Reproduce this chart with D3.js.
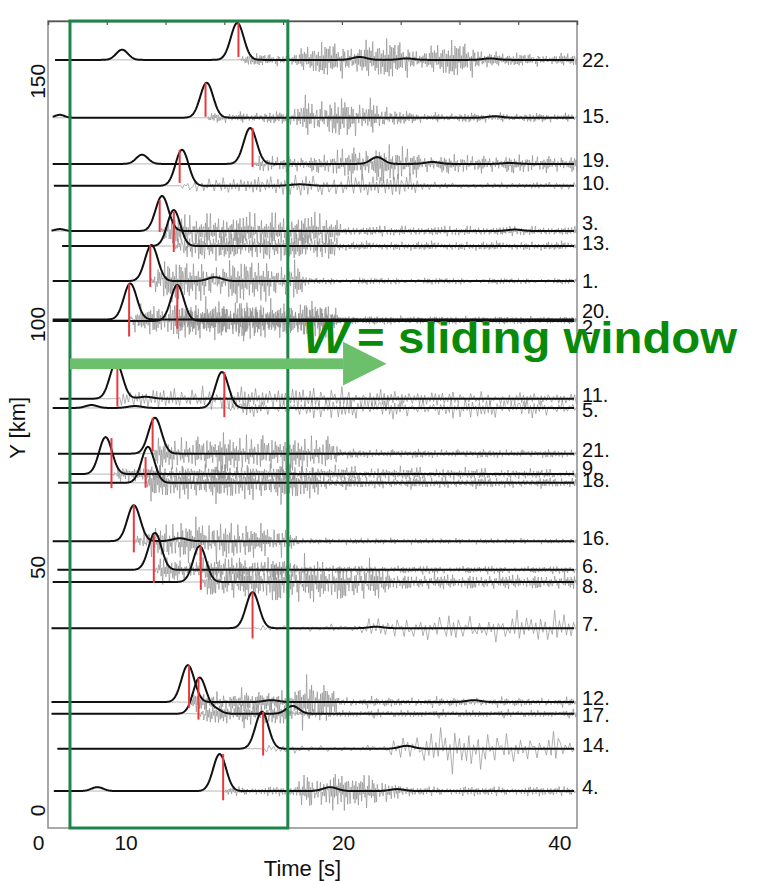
<!DOCTYPE html>
<html>
<head>
<meta charset="utf-8">
<script src="https://cdn.jsdelivr.net/npm/d3@7"></script>
<style>
  body { margin: 0; background: #fff; }
  text { font-family: "Liberation Sans", Arial, sans-serif; }
</style>
</head>
<body>
<div id="chart"></div>
<script>
const width = 766, height = 881;
const margin = {top: 21, right: 189, bottom: 53, left: 48};
const iw = width - margin.left - margin.right, ih = height - margin.top - margin.bottom;

// station labels, top to bottom
const traceIds = ["22.", "15.", "19.", "10.", "3.", "13.", "1.", "20.", "2.", "11.", "5.",
  "21.", "9.", "18.", "16.", "6.", "8.", "7.", "12.", "17.", "14.", "4."];
// station Y position [km]
const baselineKm = [154.3, 142.4, 132.9, 128.4, 119.1, 116.0, 108.8, 100.9, 100.6, 84.6, 82.7,
  73.3, 69.1, 67.3, 55.3, 49.4, 46.9, 37.4, 22.2, 19.8, 12.6, 3.9];
// where the label sits [km]
const labelKm = [154.3, 142.8, 133.7, 129.0, 120.8, 116.7, 108.8, 102.7, 99.4, 85.4, 82.3,
  74.1, 70.4, 67.9, 56.0, 50.2, 46.1, 38.3, 23.0, 19.5, 13.4, 4.7];
// first sample time [s]
const envStart = [0.6, 0.4, 0.4, 0.5, 0.3, 1.2, 0.4, 0.4, 0.4, 1.0, 0.4,
  0.85, 1.9, 0.85, 0.4, 0.8, 0.4, 0.3, 0.3, 0.3, 0.8, 0.5];
// envelope peaks: [time s, height km, width s]
const peaks = [
  [[16.1, 7.6], [6.3, 2.1, 0.5], [26.5, 0.6, 0.6], [30.5, 0.3, 0.6], [37.6, 0.3, 0.6]],
  [[13.5, 7.2], [1.0, 0.6, 0.4], [38.0, 0.3, 0.6]],
  [[17.2, 7.4], [8.0, 1.9, 0.5], [28.0, 1.4, 0.55], [32.7, 0.4, 0.6], [39.3, 0.2, 0.6]],
  [[11.4, 7.4], [21.4, 0.3, 0.8]],
  [[9.7, 7.2], [1.0, 0.4, 0.4], [39.7, 0.3, 0.6]],
  [[10.7, 7.4]],
  [[8.8, 7.4], [14.2, 0.8, 0.6]],
  [[7.0, 7.4]],
  [[11.0, 7.4]],
  [[5.8, 7.4], [8.3, 0.4, 0.6]],
  [[14.8, 7.4], [3.7, 0.6, 0.5], [7.4, 0.4, 0.6]],
  [[9.1, 7.4]],
  [[4.9, 7.6]],
  [[8.5, 7.4]],
  [[7.3, 7.4], [11.2, 0.6, 0.6]],
  [[9.1, 7.6]],
  [[12.9, 7.4]],
  [[17.4, 7.4], [27.9, 0.3, 0.6]],
  [[11.9, 7.6], [19.0, 0.4, 0.6], [36.2, 0.4, 0.6]],
  [[12.9, 7.4], [14.2, 1.0, 0.5], [20.8, 1.6, 0.55]],
  [[18.2, 7.6], [30.5, 0.6, 0.6]],
  [[14.6, 7.6], [4.2, 0.8, 0.5], [24.0, 0.8, 0.6], [29.7, 0.4, 0.6]]
];
// picks: [time s, top above base km, bottom below base km]
const picks = [
  [16.2, 7.6, -0.6], [13.4, 7.2, -0.2], [17.4, 7.4, 0.6], [11.2, 7.4, -0.6], [9.5, 6.4, 0.2],
  [10.7, 7.0, 1.2], [8.7, 7.4, 1.2], [6.9, 7.4, 3.5], [11.0, 7.4, 1.6], [5.9, 7.4, 1.6],
  [15.0, 7.4, 1.9], [8.9, 7.4, -0.4], [5.4, 7.4, 2.9], [8.3, 5.3, 1.0], [7.3, 7.4, 2.3],
  [9.0, 7.2, 2.7], [13.0, 7.4, 1.6], [17.4, 7.4, 2.1], [12.0, 7.6, 1.2], [12.8, 7.4, 1.2],
  [18.3, 7.6, 1.4], [14.9, 7.6, 1.9]
];
// seismogram peak amplitude read along the record: [time s, amplitude km]
const grayAmp = [
  [[0, 0.05], [16.2, 0.05], [16.8, 1.8], [20.6, 2], [22, 4], [24, 5.5], [30, 6], [32, 3.5], [34, 5.5], [35.9, 5.5], [36.7, 4.5], [38.4, 2], [45, 2]],
  [[0, 0.05], [13.4, 0.05], [14, 1.6], [20.6, 2], [21.5, 6.5], [28, 5.5], [29.9, 2.2], [31.6, 1.6], [45, 1.4]],
  [[0, 0.05], [17.4, 0.05], [18, 2.4], [24, 2.6], [25, 5.5], [31, 5.5], [31.6, 2.8], [45, 2.6]],
  [[0, 0.05], [11.2, 0.05], [11.8, 2.6], [20.6, 2.6], [21.5, 4], [31, 3.5], [31.6, 1.2], [45, 1]],
  [[0, 0.05], [9.5, 0.05], [10, 4.5], [15, 5.5], [24, 5.5], [25, 1.6], [45, 1.4]],
  [[0, 0.05], [10.7, 0.05], [11.2, 4.5], [24, 4.5], [25, 1.4], [45, 1.4]],
  [[0, 0.05], [8.7, 0.05], [9.2, 5.5], [21, 6], [22, 1], [45, 0.8]],
  [[0, 0.05], [6.9, 0.05], [7.4, 4.5], [14, 7], [24, 5.5], [25, 1.2], [45, 1]],
  [[0, 0.05], [11, 0.05], [11.5, 4.5], [24, 5.5], [25, 1.2], [45, 1]],
  [[0, 0.05], [5.9, 0.05], [6.4, 3], [15, 4], [26, 3.5], [31.6, 2.4], [45, 1.8]],
  [[0, 0.05], [15, 0.05], [15.5, 2.4], [25, 3.5], [45, 3]],
  [[0, 0.05], [8.9, 0.05], [9.4, 4.5], [15, 6], [24, 5.5], [25, 1.4], [45, 1.2]],
  [[0, 0.05], [5.4, 0.05], [6, 2.4], [20, 2.4], [45, 1.2]],
  [[0, 0.05], [8.3, 0.05], [8.8, 5], [22, 5.5], [24, 1.8], [45, 1.4]],
  [[0, 0.05], [7.3, 0.05], [7.8, 3.5], [12, 7], [20, 4.5], [21.4, 1], [45, 0.8]],
  [[0, 0.05], [9, 0.05], [9.5, 3.5], [20, 3.5], [21, 1.2], [45, 1]],
  [[0, 0.05], [13, 0.05], [13.5, 4.5], [20, 7], [28, 5.5], [30, 2.4], [45, 2.2]],
  [[0, 0.05], [17.4, 0.05], [18, 1], [26, 1.2], [29, 4.5], [45, 5]],
  [[0, 0.05], [12, 0.05], [12.5, 3], [20, 3.5], [21, 6.5], [24, 5.5], [25, 1.4], [45, 1.2]],
  [[0, 0.05], [12.8, 0.05], [13.3, 3.5], [20, 4], [21, 1.2], [45, 1.2]],
  [[0, 0.05], [18.3, 0.05], [18.8, 1.2], [28, 1.2], [30, 5.5], [45, 5.5]],
  [[0, 0.05], [14.9, 0.05], [15.4, 1.4], [21, 1.4], [22, 6], [29, 4.5], [30, 1.4], [45, 1.4]]
];
// sample spacing of each record [s]
const grayStep = [0.07, 0.07, 0.07, 0.15, 0.07, 0.07, 0.07, 0.07, 0.07, 0.15, 0.15,
  0.07, 0.07, 0.07, 0.07, 0.07, 0.07, 0.2, 0.07, 0.07, 0.2, 0.07];
// hand-typed wiggle shape for the seismogram texture
const wiggle = [0.35, -0.8, 0.55, -0.2, 0.95, -0.6, 0.15, -0.9, 0.7, -0.45, 0.25, -0.7, 0.85, -0.3,
  0.5, -1, 0.4, -0.15, 0.75, -0.55, 0.1, -0.85, 0.6, -0.35, 0.9, -0.65, 0.2, -0.5, 0.8, -0.1,
  0.45, -0.75, 0.3, -0.95, 0.65, -0.25, 0.55, -0.6, 0.05, -0.4, 1, -0.7, 0.35, -0.2, 0.6, -0.9,
  0.15, -0.5, 0.85, -0.3, 0.45, -0.8, 0.7, -0.05, 0.25, -0.65, 0.95, -0.45, 0.1, -0.75, 0.5,
  -0.35, 0.8, -0.55, 0.3, -1, 0.6, -0.15, 0.4, -0.7, 0.9, -0.25, 0.2, -0.85, 0.65, -0.4, 0.75, -0.6, 0.5];

const xTickPos = [-0.85, 6.6, 25.1, 43.5];
const xTickLabels = ["0", "10", "20", "40"];
const topTicks = [5, 10, 15, 20, 25, 30, 35, 40];
const yTicks = [0, 50, 100, 150];

// sliding window annotation [s], arrow level [km]
const windowSpan = [1.87, 20.4];
const arrowKm = 91.8, arrowHalf = 1.1, arrowHeadHalf = 4.5;
const arrowSpan = [1.87, 25.1, 28.8];
const noteAt = [21.7, 94.0];

const x = d3.scaleLinear().domain([0, 45]).range([0, iw]);
const y = d3.scaleLinear().domain([-3.7, 162.3]).range([ih, 0]);

const svg = d3.select("#chart").append("svg")
  .attr("width", width)
  .attr("height", height);
const g = svg.append("g").attr("transform", `translate(${margin.left},${margin.top})`);

const line = d3.line().x(d => x(d[0])).y(d => y(d[1]));

const envPoints = (i) => d3.range(envStart[i], 44.8, 0.05).map(t => [t,
  baselineKm[i] + d3.sum(peaks[i], p => p[1] * Math.exp(-((t - p[0]) ** 2) / (2 * (p[2] || 0.55) ** 2)))]);

const grayPoints = (i) => {
  const amp = d3.scaleLinear()
    .domain(grayAmp[i].map(d => d[0]))
    .range(grayAmp[i].map(d => d[1]))
    .clamp(true);
  const off = i * 13, n = wiggle.length;
  return d3.range(envStart[i], 45, grayStep[i]).map((t, k) => {
    const w = (0.8 * wiggle[(k + off) % n] + 0.2 * wiggle[(k * 3 + off * 7) % n])
      * (0.3 + 0.7 * Math.abs(wiggle[(k * 5 + off * 3) % n]));
    return [t, baselineKm[i] + amp(t) * w];
  });
};

const idx = d3.range(traceIds.length);

g.append("g").selectAll("path")
  .data(idx)
  .enter().append("path")
  .attr("d", i => line(grayPoints(i)))
  .attr("fill", "none")
  .attr("stroke", "#8e8e8e")
  .attr("stroke-opacity", 0.85)
  .attr("stroke-width", 0.8);

g.append("g").selectAll("path")
  .data(idx)
  .enter().append("path")
  .attr("d", i => line(envPoints(i)))
  .attr("fill", "none")
  .attr("stroke", "#111")
  .attr("stroke-width", 2);

g.append("g").selectAll("line")
  .data(idx)
  .enter().append("line")
  .attr("x1", i => x(picks[i][0]))
  .attr("x2", i => x(picks[i][0]))
  .attr("y1", i => y(baselineKm[i] + picks[i][1]))
  .attr("y2", i => y(baselineKm[i] - picks[i][2]))
  .attr("stroke", "#e8393f")
  .attr("stroke-width", 2);

// frame
g.append("rect")
  .attr("width", iw).attr("height", ih)
  .attr("fill", "none")
  .attr("stroke", "#8c8c8c")
  .attr("stroke-width", 1.5);

const topAxis = g.append("g")
  .call(d3.axisTop(x).tickValues(topTicks).tickSize(-4).tickFormat(""));
topAxis.select(".domain").attr("stroke", "#555").attr("stroke-width", 1.5);
topAxis.selectAll(".tick line").attr("stroke", "#555").attr("stroke-width", 1.2);

const bottomAxis = g.append("g")
  .attr("transform", `translate(0,${ih})`)
  .call(d3.axisBottom(x).tickValues(xTickPos).tickSize(0).tickPadding(7)
    .tickFormat((d, i) => xTickLabels[i]));
bottomAxis.select(".domain").remove();
bottomAxis.selectAll("text").attr("font-size", 21).attr("fill", "#111")
  .attr("font-family", "Liberation Sans, Arial, sans-serif");

const leftAxis = g.append("g")
  .call(d3.axisLeft(y).tickValues(yTicks).tickSize(0));
leftAxis.select(".domain").remove();
leftAxis.selectAll("text")
  .attr("x", 0).attr("y", 0).attr("dy", 0)
  .attr("text-anchor", "middle")
  .attr("transform", "translate(-3,0) rotate(-90)")
  .attr("font-size", 21).attr("fill", "#111")
  .attr("font-family", "Liberation Sans, Arial, sans-serif");

g.append("text")
  .attr("x", x(21.65)).attr("y", ih + 48)
  .attr("text-anchor", "middle")
  .attr("font-size", 22).attr("fill", "#111")
  .text("Time [s]");

g.append("text")
  .attr("transform", `translate(${-23},${y(78.6)}) rotate(-90)`)
  .attr("text-anchor", "middle")
  .attr("font-size", 22).attr("fill", "#111")
  .text("Y [km]");

// station labels
g.append("g").selectAll("text")
  .data(idx)
  .enter().append("text")
  .attr("x", iw + 5)
  .attr("y", i => y(labelKm[i]))
  .attr("dy", "0.36em")
  .attr("font-size", 20)
  .attr("fill", "#111")
  .text(i => traceIds[i]);

// sliding window
g.append("rect")
  .attr("x", x(windowSpan[0]))
  .attr("y", y.range()[1])
  .attr("width", x(windowSpan[1]) - x(windowSpan[0]))
  .attr("height", y.range()[0] - y.range()[1])
  .attr("fill", "none")
  .attr("stroke", "#1e8449")
  .attr("stroke-width", 3);

g.append("rect")
  .attr("x", x(arrowSpan[0]))
  .attr("y", y(arrowKm + arrowHalf))
  .attr("width", x(arrowSpan[1]) - x(arrowSpan[0]))
  .attr("height", y(arrowKm - arrowHalf) - y(arrowKm + arrowHalf))
  .attr("fill", "#6cc06c");
g.append("path")
  .attr("d", d3.line()([
    [x(arrowSpan[1]), y(arrowKm + arrowHeadHalf)],
    [x(arrowSpan[2]), y(arrowKm)],
    [x(arrowSpan[1]), y(arrowKm - arrowHeadHalf)]
  ]) + "Z")
  .attr("fill", "#6cc06c");

g.append("text")
  .attr("x", x(noteAt[0])).attr("y", y(noteAt[1]))
  .attr("font-size", 44).attr("font-weight", "bold").attr("font-style", "italic")
  .attr("fill", "#0a8a0a")
  .attr("textLength", 45)
  .attr("lengthAdjust", "spacingAndGlyphs")
  .text("W");
g.append("text")
  .attr("x", x(noteAt[0]) + 54).attr("y", y(noteAt[1]))
  .attr("font-size", 44).attr("font-weight", "bold")
  .attr("fill", "#0a8a0a")
  .attr("textLength", 380)
  .attr("lengthAdjust", "spacingAndGlyphs")
  .text("= sliding window");
</script>
</body>
</html>
